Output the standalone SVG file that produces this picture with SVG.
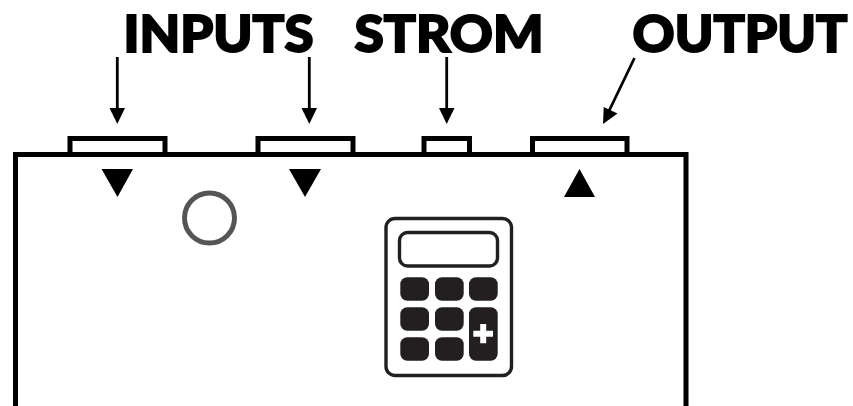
<svg xmlns="http://www.w3.org/2000/svg" width="853" height="406" viewBox="0 0 853 406">
<style>
.lbl{font-family:"Lato","Liberation Sans",sans-serif;font-weight:900;font-size:51.500px;fill:#000;stroke:#000;stroke-width:2;stroke-linejoin:miter}
.port{fill:#fff;stroke:#000;stroke-width:5}
.tri{fill:#000}
.key{fill:#231f20}
.ln{stroke:#000;stroke-width:2.800;fill:none}
</style>
<rect width="853" height="406" fill="#fff"/>
<g id="body"><path d="M15.500 406V154.500H686V406" fill="none" stroke="#000" stroke-width="5"/></g>
<g id="port-input-1"><rect class="port" x="70" y="138.500" width="95" height="16"/><polygon class="tri" points="101.500,169 133,169 117.500,197"/></g>
<g id="port-input-2"><rect class="port" x="258" y="138.500" width="95" height="16"/><polygon class="tri" points="289,169 321,169 305,197"/></g>
<g id="port-power"><rect class="port" x="424" y="138.500" width="45.500" height="16"/></g>
<g id="port-output"><rect class="port" x="532.500" y="138.500" width="94.500" height="16"/><polygon class="tri" points="564,197 595,197 579.500,169"/></g>
<g id="indicator"><circle cx="209.500" cy="218" r="25" fill="none" stroke="#555" stroke-width="5"/></g>
<g id="calculator">
<rect x="386" y="218.500" width="125.500" height="157" rx="9" fill="#fff" stroke="#231f20" stroke-width="3.400"/>
<rect x="399.500" y="232.500" width="98" height="33.500" rx="8" fill="#fff" stroke="#231f20" stroke-width="3.400"/>
<rect class="key" x="400.300" y="277.300" width="28.700" height="23.400" rx="7"/>
<rect class="key" x="435" y="277.300" width="28.700" height="23.400" rx="7"/>
<rect class="key" x="469" y="277.300" width="28.700" height="23.400" rx="7"/>
<rect class="key" x="400.300" y="307.300" width="28.700" height="23.400" rx="7"/>
<rect class="key" x="435" y="307.300" width="28.700" height="23.400" rx="7"/>
<rect class="key" x="469" y="307.300" width="28.700" height="53.400" rx="7"/>
<rect class="key" x="400.300" y="337.300" width="28.700" height="23.400" rx="7"/>
<rect class="key" x="435" y="337.300" width="28.700" height="23.400" rx="7"/>
<path d="M473.300 333.700H493M483.200 324V343.300" stroke="#fff" stroke-width="6" fill="none"/>
</g>
<g id="connectors">
<path class="ln" d="M117.300 57V110"/><polygon class="tri" points="109.500,108 125,108 117.300,124"/>
<path class="ln" d="M309.300 57V110"/><polygon class="tri" points="301.500,108 317,108 309.300,124"/>
<path class="ln" d="M446.700 57V110"/><polygon class="tri" points="439,108 454.500,108 446.700,124"/>
<path class="ln" d="M634.500 58L609 111"/><polygon class="tri" points="603,124 603.700,107 617.500,113.500"/>
</g>
<g id="labels">
<text class="lbl" x="123.500" y="52" textLength="190" lengthAdjust="spacingAndGlyphs">INPUTS</text>
<text class="lbl" x="354.500" y="52" textLength="189" lengthAdjust="spacingAndGlyphs">STROM</text>
<text class="lbl" x="632.500" y="52" textLength="215" lengthAdjust="spacingAndGlyphs">OUTPUT</text>
</g>
</svg>
